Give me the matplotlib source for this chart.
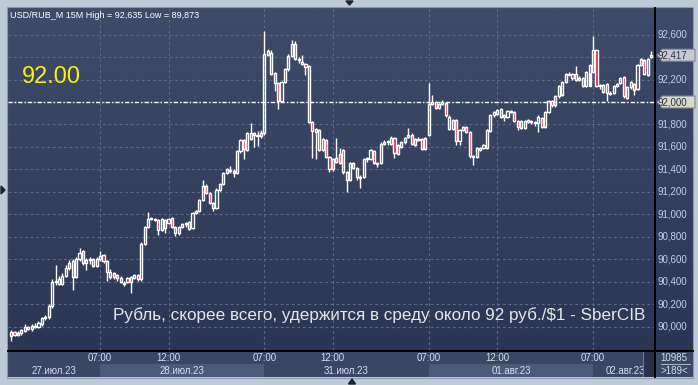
import numpy as np
import matplotlib
matplotlib.use("Agg")
import matplotlib.pyplot as plt
from matplotlib.colors import LinearSegmentedColormap
from matplotlib.patches import Rectangle, Polygon
from matplotlib.transforms import IdentityTransform

plt.rcParams['font.family'] = ['Liberation Sans', 'DejaVu Sans']

# USD/RUB_M, 15 minute candles, 27.07.23 - 02.08.23
opens = [
    89.92, 89.95, 89.93, 89.94, 89.96, 90.00, 89.98, 90.01, 90.00, 90.02,
    90.08, 90.09, 90.18, 90.40, 90.42, 90.38, 90.45, 90.52, 90.58, 90.44,
    90.60, 90.67, 90.57, 90.59, 90.60, 90.54, 90.60, 90.64, 90.58, 90.44,
    90.48, 90.43, 90.43, 90.38, 90.43, 90.40, 90.43, 90.46, 90.42, 90.74,
    90.89, 90.96, 90.96, 90.95, 90.86, 90.95, 90.92, 90.97, 90.89, 90.83,
    90.89, 90.91, 90.93, 90.88, 91.01, 91.03, 91.13, 91.25, 91.19, 91.10,
    91.06, 91.22, 91.27, 91.37, 91.39, 91.39, 91.37, 91.56, 91.66, 91.57,
    91.67, 91.71, 91.70, 91.70, 91.72, 92.42, 92.44, 92.26, 92.17, 92.01,
    92.18, 92.29, 92.41, 92.52, 92.37, 92.36, 92.34, 92.32, 91.82, 91.73,
    91.75, 91.57, 91.66, 91.51, 91.40, 91.50, 91.54, 91.57, 91.38, 91.31,
    91.46, 91.41, 91.32, 91.33, 91.49, 91.49, 91.56, 91.45, 91.46, 91.63,
    91.65, 91.63, 91.68, 91.62, 91.60, 91.64, 91.69, 91.71, 91.67, 91.66,
    91.67, 91.58, 91.71, 91.98, 92.00, 91.95, 91.98, 91.99, 91.87, 91.76,
    91.84, 91.65, 91.75, 91.78, 91.73, 91.51, 91.51, 91.57, 91.59, 91.59,
    91.74, 91.88, 91.89, 91.94, 91.87, 91.87, 91.91, 91.91, 91.83, 91.83,
    91.77, 91.82, 91.82, 91.81, 91.81, 91.86, 91.78, 91.91, 92.01, 91.97,
    92.05, 92.06, 92.18, 92.24, 92.25, 92.20, 92.20, 92.21, 92.14, 92.14,
    92.27, 92.46, 92.14, 92.09, 92.16, 92.07, 92.08, 92.14, 92.17, 92.22,
    92.04, 92.13, 92.16, 92.12, 92.33, 92.37, 92.24, 92.40,
]
highs = [
    89.97, 89.96, 89.96, 89.98, 90.02, 90.01, 90.02, 90.03, 90.05, 90.09,
    90.10, 90.20, 90.42, 90.55, 90.45, 90.48, 90.55, 90.59, 90.60, 90.62,
    90.70, 90.68, 90.61, 90.62, 90.61, 90.62, 90.67, 90.65, 90.59, 90.51,
    90.49, 90.47, 90.45, 90.41, 90.44, 90.45, 90.47, 90.47, 90.75, 90.90,
    91.02, 90.98, 90.97, 90.96, 90.97, 90.96, 90.97, 90.98, 90.90, 90.90,
    90.92, 90.93, 90.94, 91.02, 91.04, 91.14, 91.31, 91.27, 91.20, 91.11,
    91.23, 91.28, 91.38, 91.41, 91.43, 91.40, 91.57, 91.67, 91.67, 91.73,
    91.81, 91.73, 91.74, 91.75, 92.635, 92.47, 92.46, 92.27, 92.18, 92.19,
    92.30, 92.43, 92.55, 92.54, 92.40, 92.42, 92.35, 92.33, 91.83, 91.77,
    91.76, 91.68, 91.67, 91.52, 91.50, 91.68, 91.59, 91.58, 91.39, 91.47,
    91.47, 91.42, 91.35, 91.50, 91.51, 91.58, 91.57, 91.47, 91.64, 91.66,
    91.66, 91.70, 91.69, 91.63, 91.65, 91.69, 91.77, 91.72, 91.68, 91.69,
    91.68, 91.69, 92.17, 92.06, 92.01, 91.99, 92.02, 92.00, 91.88, 91.85,
    91.85, 91.76, 91.79, 91.79, 91.74, 91.53, 91.60, 91.60, 91.63, 91.76,
    91.89, 91.92, 91.94, 91.95, 91.89, 91.93, 91.93, 91.92, 91.84, 91.84,
    91.84, 91.85, 91.84, 91.83, 91.88, 91.87, 91.92, 92.02, 92.02, 92.06,
    92.15, 92.19, 92.26, 92.27, 92.26, 92.32, 92.23, 92.22, 92.28, 92.34,
    92.59, 92.47, 92.16, 92.16, 92.17, 92.10, 92.15, 92.17, 92.22, 92.23,
    92.14, 92.19, 92.17, 92.34, 92.39, 92.38, 92.39, 92.45,
]
lows = [
    89.873, 89.92, 89.92, 89.93, 89.95, 89.97, 89.96, 89.99, 89.99, 90.01,
    90.06, 90.07, 90.17, 90.37, 90.37, 90.37, 90.44, 90.50, 90.33, 90.43,
    90.58, 90.55, 90.50, 90.56, 90.53, 90.53, 90.58, 90.57, 90.41, 90.42,
    90.42, 90.41, 90.39, 90.36, 90.39, 90.30, 90.42, 90.41, 90.41, 90.73,
    90.88, 90.95, 90.94, 90.82, 90.85, 90.83, 90.91, 90.88, 90.81, 90.82,
    90.88, 90.89, 90.86, 90.87, 91.00, 91.02, 91.12, 91.18, 91.09, 91.03,
    91.05, 91.21, 91.26, 91.36, 91.37, 91.33, 91.36, 91.55, 91.49, 91.56,
    91.66, 91.60, 91.61, 91.68, 91.71, 92.41, 92.24, 92.10, 91.94, 92.00,
    92.17, 92.28, 92.40, 92.37, 92.35, 92.33, 92.24, 91.81, 91.50, 91.49,
    91.56, 91.56, 91.50, 91.38, 91.39, 91.46, 91.45, 91.36, 91.20, 91.30,
    91.40, 91.31, 91.23, 91.32, 91.47, 91.48, 91.45, 91.42, 91.45, 91.62,
    91.62, 91.62, 91.50, 91.53, 91.59, 91.63, 91.68, 91.62, 91.61, 91.65,
    91.57, 91.57, 91.70, 91.97, 91.94, 91.94, 91.97, 91.87, 91.75, 91.75,
    91.62, 91.62, 91.74, 91.72, 91.50, 91.44, 91.50, 91.56, 91.58, 91.58,
    91.73, 91.87, 91.88, 91.86, 91.83, 91.86, 91.90, 91.82, 91.75, 91.76,
    91.76, 91.81, 91.80, 91.79, 91.73, 91.77, 91.77, 91.90, 91.96, 91.96,
    92.04, 92.05, 92.17, 92.24, 92.20, 92.19, 92.19, 92.13, 92.13, 92.26,
    92.26, 92.13, 92.12, 92.08, 92.01, 92.06, 92.07, 92.13, 92.16, 92.04,
    92.03, 92.12, 92.06, 92.11, 92.32, 92.24, 92.23, 92.39,
]
closes = [
    89.95, 89.93, 89.94, 89.97, 90.00, 89.98, 90.01, 90.00, 90.03, 90.08,
    90.09, 90.18, 90.40, 90.41, 90.38, 90.45, 90.52, 90.57, 90.44, 90.60,
    90.66, 90.57, 90.59, 90.60, 90.54, 90.60, 90.63, 90.58, 90.49, 90.49,
    90.44, 90.46, 90.40, 90.39, 90.40, 90.44, 90.46, 90.42, 90.74, 90.89,
    90.96, 90.96, 90.95, 90.86, 90.96, 90.88, 90.96, 90.89, 90.83, 90.89,
    90.91, 90.92, 90.87, 91.01, 91.03, 91.13, 91.25, 91.19, 91.10, 91.06,
    91.22, 91.27, 91.37, 91.40, 91.39, 91.37, 91.56, 91.66, 91.58, 91.72,
    91.72, 91.72, 91.71, 91.72, 92.43, 92.45, 92.25, 92.17, 92.01, 92.18,
    92.29, 92.41, 92.52, 92.38, 92.38, 92.34, 92.31, 91.82, 91.74, 91.76,
    91.57, 91.67, 91.51, 91.40, 91.49, 91.47, 91.46, 91.38, 91.31, 91.46,
    91.41, 91.33, 91.33, 91.49, 91.50, 91.57, 91.46, 91.46, 91.63, 91.64,
    91.64, 91.68, 91.55, 91.54, 91.64, 91.68, 91.71, 91.63, 91.62, 91.67,
    91.58, 91.68, 91.98, 92.00, 91.95, 91.98, 92.00, 91.88, 91.76, 91.84,
    91.65, 91.75, 91.78, 91.73, 91.52, 91.52, 91.59, 91.59, 91.62, 91.75,
    91.88, 91.91, 91.93, 91.87, 91.88, 91.92, 91.92, 91.83, 91.78, 91.77,
    91.83, 91.84, 91.83, 91.82, 91.87, 91.78, 91.91, 92.01, 91.97, 92.05,
    92.14, 92.18, 92.25, 92.25, 92.21, 92.25, 92.21, 92.14, 92.27, 92.33,
    92.46, 92.14, 92.15, 92.15, 92.08, 92.08, 92.14, 92.16, 92.21, 92.05,
    92.13, 92.18, 92.11, 92.33, 92.38, 92.25, 92.38, 92.417,
]

price_ticks = [90.0, 90.2, 90.4, 90.6, 90.8, 91.0, 91.2, 91.4, 91.6, 91.8,
               92.0, 92.2, 92.4, 92.6]
time_ticks = [26, 46, 74, 94, 122, 142, 170]
time_labels = ["07:00", "12:00", "07:00", "12:00", "07:00", "12:00", "07:00"]
day_edges = [-0.9, 26, 74, 122, 170, 188.1]
day_labels = ["27.июл.23", "28.июл.23", "31.июл.23", "01.авг.23", "02.авг.23"]
level = 92.0
last_price = closes[-1]
bars_total = "10985"
bars_visible = ">189<"
headline = "Рубль, скорее всего, удержится в среду около 92 руб./$1 - SberCIB"

W, H = 698, 385
XLIM = (-0.9, 188.1)
YLIM = (89.792, 92.837)


def box(x0, y0, x1, y1):
    return [x0 / W, 1 - y1 / H, (x1 - x0) / W, (y1 - y0) / H]


def comma(v):
    return f"{v:.3f}".replace(".", ",")


bg = LinearSegmentedColormap.from_list("bg", ["#2a3654", "#3f4c69"])
grad = np.linspace(0, 1, 256).reshape(-1, 1)

fig = plt.figure(figsize=(W / 100, H / 100), dpi=100)
fig.patch.set_facecolor("#bfcad8")

ax = fig.add_axes(box(8, 8, 655, 350))
axr = fig.add_axes(box(655, 8, 693, 350))
axb = fig.add_axes(box(8, 350, 655, 377))
axc = fig.add_axes(box(655, 350, 693, 377))

for a in (ax, axr):
    a.imshow(grad, cmap=bg, origin="lower", extent=[0, 1, 0, 1],
             transform=a.transAxes, aspect="auto", zorder=0)

# candles
o = np.array(opens)
h = np.array(highs)
l = np.array(lows)
c = np.array(closes)
x = np.arange(len(o))
top = np.maximum(o, c)
bot = np.minimum(o, c)
up = c >= o

ax.vlines(x, top, h, color="white", lw=1, zorder=3)
ax.vlines(x, l, bot, color="white", lw=1, zorder=3)
ax.bar(x[up], np.maximum(top - bot, 0.004)[up], bottom=bot[up], width=0.62,
       facecolor="none", edgecolor="white", lw=1.0, zorder=4)
ax.bar(x[~up], np.maximum(top - bot, 0.004)[~up], bottom=bot[~up], width=0.62,
       facecolor="#e3143e", edgecolor="white", lw=1.0, zorder=4)

ax.axhline(level, color="white", lw=1, linestyle=(0, (3, 1.5, 1, 1.5)), zorder=2)

ax.set_xlim(*XLIM)
ax.set_ylim(*YLIM)
ax.set_xticks(time_ticks)
ax.set_yticks(price_ticks)
ax.grid(True, color="#5c6a88", lw=0.8, linestyle=(0, (2.5, 2.5)), zorder=1)
ax.tick_params(length=0, labelbottom=False, labelleft=False)
for s in ax.spines.values():
    s.set_visible(False)

# right price scale
axr.set_xlim(0, 1)
axr.set_ylim(*YLIM)
axr.set_xticks([])
axr.set_yticks([])
for s in axr.spines.values():
    s.set_visible(False)
for v in price_ticks:
    if abs(v - level) < 0.05 or abs(v - last_price) < 0.05:
        continue
    axr.text(0.07, v, comma(v), color="#c3cee6", fontsize=7, va="center",
             ha="left", zorder=3)

# bottom time scale
axb.set_xlim(*XLIM)
axb.set_ylim(27, 0)
axb.axis("off")
axb.add_patch(Rectangle((XLIM[0], 0), XLIM[1] - XLIM[0], 27,
                        facecolor="#3a4764", edgecolor="none", zorder=0))
for i, lab in enumerate(day_labels):
    x0, x1 = day_edges[i], day_edges[i + 1]
    if i in (1, 3):
        axb.add_patch(Rectangle((x0, 14), x1 - x0, 13, facecolor="#4b5a78",
                                edgecolor="none", zorder=1))
    if i < len(day_labels) - 1:
        axb.text((x0 + x1) / 2, 20.5, lab, color="#d6deee", fontsize=7,
                 ha="center", va="center", zorder=3)
    else:
        t = axb.text(x0 + 3.6, 20.5, lab, color="#d6deee", fontsize=7,
                     ha="left", va="center", zorder=3)
        t.set_clip_on(True)
axb.add_patch(Rectangle((184.6, 0), XLIM[1] - 184.6, 27, facecolor="#27324c",
                        edgecolor="none", zorder=4))
axb.axvline(184.6, color="#6a7894", lw=0.8, zorder=5)
for tx, lab in zip(time_ticks, time_labels):
    axb.text(tx, 8, lab, color="#d6deee", fontsize=7, ha="center",
             va="center", zorder=3)

# bottom right counter box
axc.set_xlim(0, 38)
axc.set_ylim(27, 0)
axc.axis("off")
axc.add_patch(Rectangle((0, 0), 38, 27, facecolor="#3a4764", edgecolor="none"))
axc.text(19, 8, bars_total, color="#d6deee", fontsize=7, ha="center", va="center")
axc.plot([6, 35], [14, 14], color="#a7b2c6", lw=0.8)
axc.text(19, 20.5, bars_visible, color="#d6deee", fontsize=7, ha="center",
         va="center")

# overlay in pixel coordinates
ov = fig.add_axes([0, 0, 1, 1], zorder=10)
ov.set_xlim(0, W)
ov.set_ylim(H, 0)
ov.axis("off")
ov.patch.set_alpha(0)
ov.add_patch(Rectangle((7, 7), 686, 371, facecolor="none", edgecolor="#8c9ab0",
                       lw=0.8))
ov.plot([8, 693], [350.5, 350.5], color="black", lw=1.4)
ov.plot([655, 655], [8, 377], color="black", lw=1.4)
ov.text(10, 15, f"USD/RUB_M 15M High = {comma(max(highs))} Low = {comma(min(lows))}",
        color="white", fontsize=6.5, ha="left", va="center")
ov.text(22, 77, f"{level:.2f}", color="#f8f200", fontsize=17, ha="left",
        va="center")
ov.text(645, 315, headline, color="#e6e6e6", fontsize=12.3, ha="right",
        va="center")
ov.add_patch(Polygon([[346, 1], [353, 1], [349.5, 5]], color="#1c2430"))
ov.add_patch(Polygon([[348.5, 384], [355.5, 384], [352, 379]], color="#1c2430"))
ov.add_patch(Polygon([[1, 186], [1, 194], [5, 190]], color="#1c2430"))

# price tags on the right scale, placed through the axes transform
x_left = axr.transAxes.transform((0, 0))[0]
for v, fc in ((last_price, "#c6cad2"), (level, "#d7dac6")):
    yp = axr.transData.transform((0, v))[1]
    verts = [[x_left + 2, yp], [x_left + 7, yp + 6], [x_left + 40, yp + 6],
             [x_left + 40, yp - 6], [x_left + 7, yp - 6]]
    fig.add_artist(Polygon(verts, closed=True, facecolor=fc, edgecolor="#7d8595",
                           lw=0.8, transform=IdentityTransform(), zorder=20))
    fig.text(x_left + 3, yp, comma(v), color="#2c3444", fontsize=7,
             va="center", ha="left", transform=IdentityTransform(), zorder=30)

fig.savefig("out.png", dpi=100)
